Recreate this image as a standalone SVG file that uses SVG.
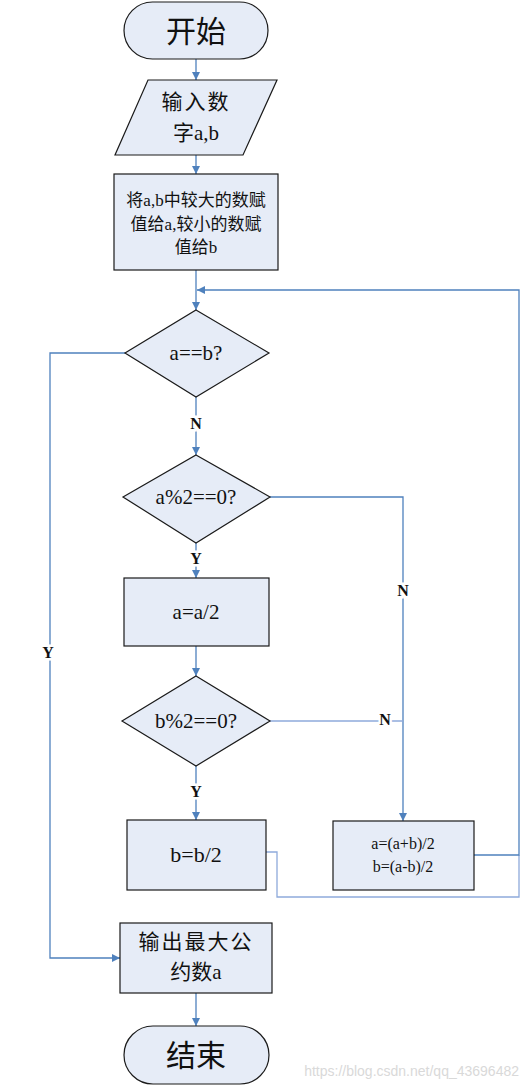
<svg xmlns="http://www.w3.org/2000/svg" width="530" height="1086" viewBox="0 0 530 1086">
<style>
.n{fill:#E6ECF7;stroke:#1a1a1a;stroke-width:1.2}
.t{font-family:"Liberation Serif","Noto Sans CJK SC",serif;fill:#111;text-anchor:middle;dominant-baseline:central}
.c{fill:none;stroke:#4F81BD;stroke-width:1.3}
.cl{fill:none;stroke:#8EAADB;stroke-width:1.3}
.lb{font-family:"Liberation Serif",serif;font-weight:bold;font-size:16px;fill:#111;text-anchor:middle;dominant-baseline:central;stroke:#fff;stroke-width:5;paint-order:stroke}
</style>
<defs>
<marker id="a" viewBox="0 0 10 10" refX="10" refY="5" markerWidth="8" markerHeight="8" markerUnits="userSpaceOnUse" orient="auto">
<path d="M0,0 L10,5 L0,10 z" fill="#4F81BD"/>
</marker>
</defs>
<rect width="530" height="1086" fill="#fff"/>
<g id="connectors">
<path class="c" d="M196,59 V80" marker-end="url(#a)"/>
<path class="c" d="M196,155 V174" marker-end="url(#a)"/>
<path class="c" d="M196,270 V310" marker-end="url(#a)"/>
<path class="cl" d="M266,852 H277 V897 H519 V855"/>
<path class="c" d="M474,855 H519 V290 H197" marker-end="url(#a)"/>
<path class="c" d="M125,353 H50 V958 H120" marker-end="url(#a)"/>
<path class="c" d="M196,397 V455" marker-end="url(#a)"/>
<path class="c" d="M196,543 V578" marker-end="url(#a)"/>
<path class="c" d="M270,497 H403 V821" marker-end="url(#a)"/>
<path class="c" d="M196,646 V676" marker-end="url(#a)"/>
<path class="cl" d="M270,721 H403"/>
<path class="c" d="M196,766 V820" marker-end="url(#a)"/>
<path class="c" d="M196,993 V1026" marker-end="url(#a)"/>
<text class="lb" x="196" y="423">N</text>
<text class="lb" x="196" y="558">Y</text>
<text class="lb" x="403" y="590">N</text>
<text class="lb" x="48" y="652">Y</text>
<text class="lb" x="385" y="719">N</text>
<text class="lb" x="196" y="791">Y</text>
</g>
<g id="start">
<rect class="n" x="124" y="2" width="144" height="57" rx="28.5"/>
<text class="t" x="196" y="31" font-size="30">开始</text>
</g>
<g id="input">
<polygon class="n" points="148,80 277,80 243,155 115,155"/>
<text class="t" x="196" y="102" font-size="21" letter-spacing="2">输入数</text>
<text class="t" x="196" y="133" font-size="21">字a,b</text>
</g>
<g id="swap">
<rect class="n" x="114" y="174" width="164" height="96"/>
<text class="t" x="196" y="200" font-size="17">将a,b中较大的数赋</text>
<text class="t" x="196" y="224" font-size="17">值给a,较小的数赋</text>
<text class="t" x="196" y="247" font-size="17">值给b</text>
</g>
<g id="d1">
<polygon class="n" points="196,310 269,353 196,397 125,353"/>
<text class="t" x="196" y="353" font-size="21">a==b?</text>
</g>
<g id="d2">
<polygon class="n" points="196,455 270,497 196,543 123,497"/>
<text class="t" x="196" y="497" font-size="21">a%2==0?</text>
</g>
<g id="halfa">
<rect class="n" x="124" y="578" width="145" height="68"/>
<text class="t" x="196" y="612" font-size="21">a=a/2</text>
</g>
<g id="d3">
<polygon class="n" points="196,676 270,721 196,766 122,721"/>
<text class="t" x="196" y="721" font-size="21">b%2==0?</text>
</g>
<g id="halfb">
<rect class="n" x="127" y="820" width="139" height="70"/>
<text class="t" x="196" y="854" font-size="22">b=b/2</text>
</g>
<g id="avg">
<rect class="n" x="333" y="821" width="141" height="69"/>
<text class="t" x="403" y="843" font-size="16">a=(a+b)/2</text>
<text class="t" x="403" y="866" font-size="16">b=(a-b)/2</text>
</g>
<g id="output">
<rect class="n" x="120" y="923" width="152" height="70"/>
<text class="t" x="196" y="942" font-size="21" letter-spacing="2">输出最大公</text>
<text class="t" x="196" y="972" font-size="21">约数a</text>
</g>
<g id="end">
<rect class="n" x="124" y="1026" width="145" height="58" rx="29"/>
<text class="t" x="196" y="1055" font-size="30">结束</text>
</g>
<text x="519" y="1071" font-family="Liberation Sans,sans-serif" font-size="14" fill="#d9d9d9" text-anchor="end" dominant-baseline="central">https://blog.csdn.net/qq_43696482</text>
</svg>
